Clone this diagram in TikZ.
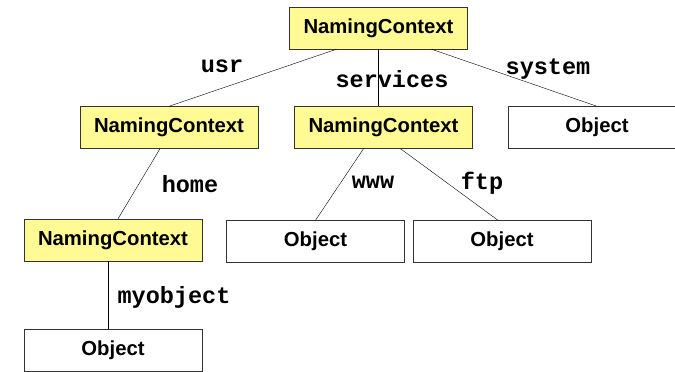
\documentclass[tikz,border=0pt]{standalone}
\usepackage{fontspec}
\setmainfont{Liberation Sans}
\newfontfamily\courfont{Liberation Mono}
\usetikzlibrary{positioning,calc}

\begin{document}
\begin{tikzpicture}[x=1pt,y=-1pt,
	ctx/.style={draw=black!80, fill=yellow!42!white, minimum width=178pt, minimum height=42pt, inner sep=0pt, font=\fontsize{20.3}{22}\selectfont\bfseries},
	obj/.style={draw=black!80, fill=white, minimum width=178pt, minimum height=42pt, inner sep=0pt, font=\fontsize{20.3}{22}\selectfont\bfseries},
	bind/.style={font=\fontsize{23.5}{25}\selectfont\courfont\bfseries, inner sep=0pt}]
		\clip (0,0) rectangle (675,372);
		\useasboundingbox (0,0) rectangle (675,372);

		% contexts
		\node[ctx] (root) at (378.5,28) {NamingContext};
		\node[ctx] (usr) at (169,127.5) {NamingContext};
		\node[ctx] (svc) at (383.5,127.5) {NamingContext};
		\node[ctx] (home) at (113,240) {NamingContext};

		% objects
		\node[obj] (sys) at (597,127.5) {Object};
		\node[obj] (www) at (315.5,241.5) {Object};
		\node[obj] (ftp) at (502,241.5) {Object};
		\node[obj] (mine) at (113,350.5) {Object};

		% bindings
		\draw ($(root.south)+(-42,0)$) -- (usr.north);
		\draw (root.south) -- (root.south |- svc.north);
		\draw ($(root.south)+(53,0)$) -- (sys.north);
		\draw ($(usr.south)+(-9,0)$) -- ($(home.north)+(5,0)$);
		\draw ($(svc.south)+(-20,0)$) -- (www.north);
		\draw ($(svc.south)+(17,0)$) -- ($(ftp.north)+(-4,0)$);
		\draw ($(home.south)+(-5,0)$) -- ($(mine.north)+(-5,0)$);

		\node[bind] (lusr) at (222,66) {usr};
		\node[bind] (lsvc) at (392,79) {services};
		\node[bind] (lsys) at (548,69) {system};
		\node[bind] (lhome) at (190,184) {home};
		\node[bind] (lwww) at (373,182) {www};
		\node[bind] (lftp) at (482,183) {ftp};
		\node[bind] (lmine) at (174,297) {myobject};
	\end{tikzpicture}
\end{document}
